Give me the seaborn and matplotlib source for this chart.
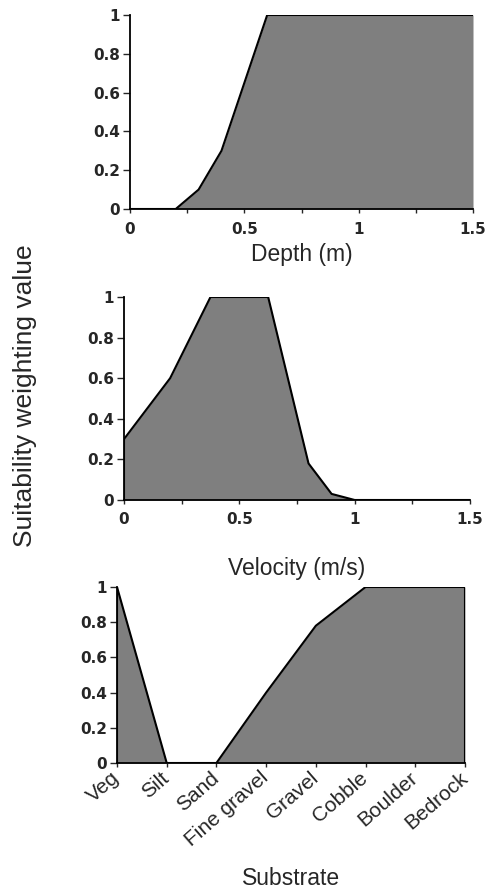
import matplotlib
matplotlib.use("Agg")
import matplotlib.pyplot as plt
import seaborn as sns
import pandas as pd
from matplotlib.ticker import MultipleLocator

# ---- data ----
depth_x = [0.0, 0.2, 0.3, 0.4, 0.6, 1.5]
depth_y = [0.0, 0.0, 0.1, 0.3, 1.0, 1.0]

vel_x = [0.0, 0.2, 0.375, 0.625, 0.8, 0.9, 1.0, 1.5]
vel_y = [0.3, 0.6, 1.0, 1.0, 0.18, 0.03, 0.0, 0.0]

substrate_cats = ["Veg", "Silt", "Sand", "Fine gravel", "Gravel", "Cobble", "Boulder", "Bedrock"]
substrate_y = [1.0, 0.0, 0.0, 0.4, 0.78, 1.0, 1.0, 1.0]

y_ticks = [0, 0.2, 0.4, 0.6, 0.8, 1]
y_ticklabels = ["0", "0.2", "0.4", "0.6", "0.8", "1"]
x_ticks = [0, 0.5, 1, 1.5]
x_ticklabels = ["0", "0.5", "1", "1.5"]

sns.set_style("ticks")
plt.rcParams["font.family"] = ["Liberation Sans", "DejaVu Sans"]

W, H = 487, 889
fig = plt.figure(figsize=(W / 100, H / 100), dpi=100)

def box(l, r, t, b):
    return [l / W, 1 - b / H, (r - l) / W, (b - t) / H]

ax1 = fig.add_axes(box(130, 473, 15, 209))
ax2 = fig.add_axes(box(124, 470, 297, 500))
ax3 = fig.add_axes(box(117, 465, 587, 763))

fill_col = "#7f7f7f"
tick_font = dict(family="DejaVu Sans", weight="bold", size=11)
label_size = 16.5

def style(ax):
    for s in ["top", "right"]:
        ax.spines[s].set_visible(False)
    for s in ["left", "bottom"]:
        ax.spines[s].set_linewidth(1.3)
        ax.spines[s].set_color("black")
    ax.set_ylim(0, 1)
    ax.set_yticks(y_ticks)
    ax.set_yticklabels(y_ticklabels, fontdict=tick_font)
    ax.tick_params(axis="y", direction="out", length=5, width=1.0, pad=2)
    ax.tick_params(axis="x", direction="out", length=3, width=1.0, pad=6)
    ax.set_ylabel("")

# Depth
df1 = pd.DataFrame({"x": depth_x, "y": depth_y})
ax1.fill_between(df1["x"], df1["y"], 0, color=fill_col, lw=0)
sns.lineplot(data=df1, x="x", y="y", ax=ax1, color="black", lw=1.5)
style(ax1)
ax1.set_xlim(0, 1.5)
ax1.set_xticks(x_ticks)
ax1.set_xticklabels(x_ticklabels, fontdict=tick_font)
ax1.xaxis.set_minor_locator(MultipleLocator(0.25))
ax1.tick_params(axis="x", which="minor", direction="out", length=3, width=1.0)
ax1.set_xlabel("Depth (m)", fontsize=label_size, labelpad=5)

# Velocity
df2 = pd.DataFrame({"x": vel_x, "y": vel_y})
ax2.fill_between(df2["x"], df2["y"], 0, color=fill_col, lw=0)
sns.lineplot(data=df2, x="x", y="y", ax=ax2, color="black", lw=1.5)
ax2.plot([0, 0], [0, vel_y[0]], color="black", lw=1.5)
style(ax2)
ax2.set_xlim(0, 1.5)
ax2.set_xticks(x_ticks)
ax2.set_xticklabels(x_ticklabels, fontdict=tick_font)
ax2.xaxis.set_minor_locator(MultipleLocator(0.25))
ax2.tick_params(axis="x", which="minor", direction="out", length=3, width=1.0)
ax2.set_xlabel("Velocity (m/s)", fontsize=label_size, labelpad=21)

# Substrate
pos = list(range(len(substrate_cats)))
df3 = pd.DataFrame({"x": pos, "y": substrate_y})
ax3.fill_between(df3["x"], df3["y"], 0, color=fill_col, lw=0)
sns.lineplot(data=df3, x="x", y="y", ax=ax3, color="black", lw=1.5)
ax3.plot([0, 0], [0, substrate_y[0]], color="black", lw=1.5)
ax3.plot([pos[-1], pos[-1]], [0, substrate_y[-1]], color="black", lw=1.5)
style(ax3)
ax3.set_xlim(0, len(substrate_cats) - 1)
ax3.set_xticks(pos)
ax3.set_xticklabels(substrate_cats, rotation=41, ha="right", va="center",
                    rotation_mode="anchor", fontsize=15)
ax3.tick_params(axis="x", pad=6)
ax3.set_xlabel("Substrate", fontsize=label_size, labelpad=12)

fig.text(25 / W, 1 - 396 / H, "Suitability weighting value", rotation=90,
         ha="center", va="center", fontsize=19)

fig.savefig("out.png", dpi=100)
